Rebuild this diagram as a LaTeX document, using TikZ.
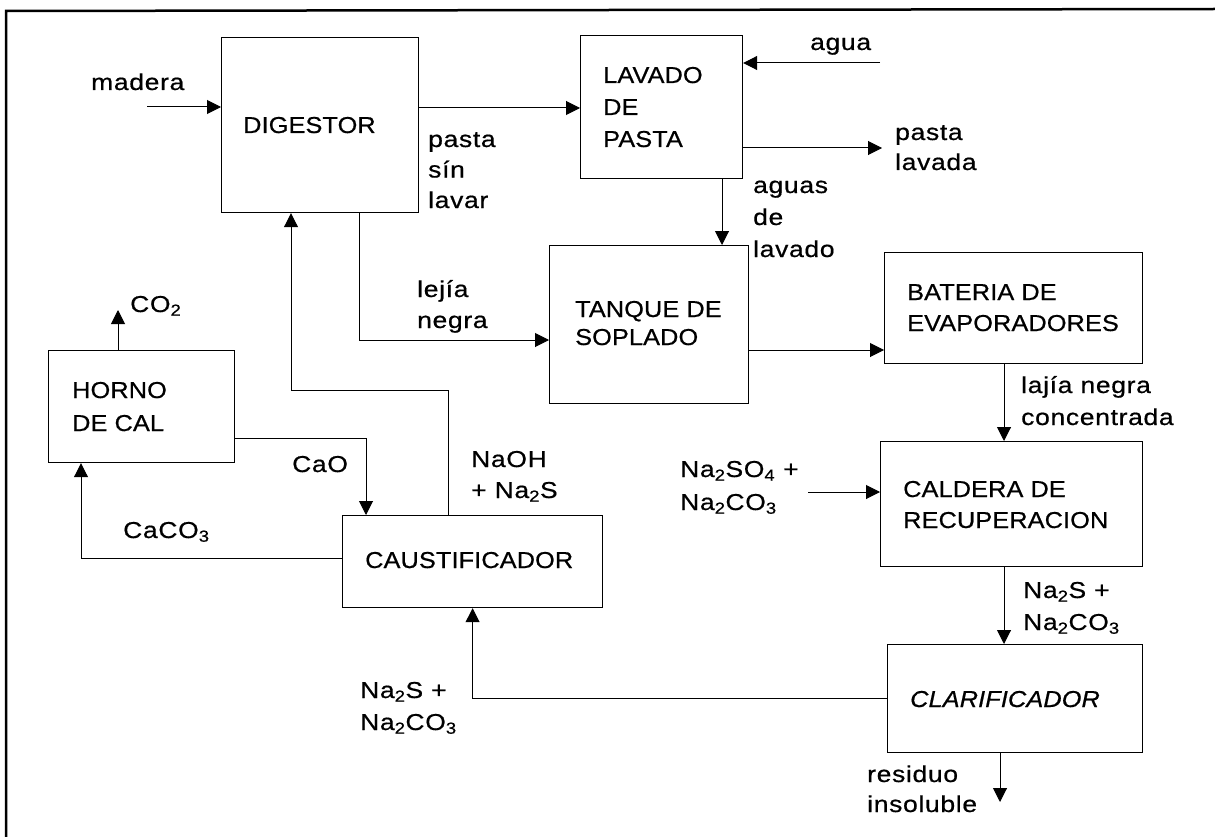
\documentclass[tikz,border=0pt]{standalone}
\usepackage{fontspec}
\setmainfont{Liberation Sans}
\newfontfamily\bxfont{Liberation Sans}[FakeStretch=1.1,LetterSpace=0.5,FakeBold=0.6]
\newfontfamily\lbfont{Liberation Sans}[FakeStretch=1.15,LetterSpace=3,FakeBold=0.6]
\usetikzlibrary{arrows.meta}
\newcommand{\sbs}[1]{\textsubscript{#1}}
\begin{document}
\begin{tikzpicture}[x=1pt,y=-1pt,
  box/.style={draw, line width=1.2pt, inner sep=0pt, anchor=north west},
  btext/.style={font=\bxfont\fontsize{23}{#1}\selectfont, align=left, anchor=base west, inner sep=0pt},
  btext/.default=31,
  lbl/.style={font=\lbfont\fontsize{23}{#1}\selectfont, align=left, anchor=base west, inner sep=0pt},
  lbl/.default=31,
  conn/.style={line width=1pt},
  arr/.style={conn, -{Triangle[length=14pt,width=14pt]}}]
\useasboundingbox (0,0) rectangle (1215,837);
% frame
\draw[line width=2.5pt] (6,837) -- (6,11) -- (1215,9);
% boxes
\node[box, minimum width=197pt, minimum height=175pt] (dig) at (221,37) {};
\node[box, minimum width=162pt, minimum height=143pt] (lav) at (580,35) {};
\node[box, minimum width=199pt, minimum height=158pt] (tan) at (549,245) {};
\node[box, minimum width=258pt, minimum height=111pt] (bat) at (884,252) {};
\node[box, minimum width=262pt, minimum height=125pt] (cal) at (880,441) {};
\node[box, minimum width=255pt, minimum height=108pt] (cla) at (887,644) {};
\node[box, minimum width=260pt, minimum height=92pt] (cau) at (342,515) {};
\node[box, minimum width=186pt, minimum height=112pt] (hor) at (48,350) {};
% box texts (anchor = baseline of last line)
\node[btext] (digT) at (243,133) {DIGESTOR};
\node[btext=32] (lavT) at (603,147) {LAVADO\\DE\\PASTA};
\node[btext=28] (tanT) at (575,345) {TANQUE DE\\SOPLADO};
\node[btext] (batT) at (907,331) {BATERIA DE\\EVAPORADORES};
\node[btext] (calT) at (903,528) {CALDERA DE\\RECUPERACION};
\node[btext, font=\bxfont\itshape\fontsize{23}{31}\selectfont] (claT) at (910,707) {CLARIFICADOR};
\node[btext] (cauT) at (365,568) {CAUSTIFICADOR};
\node[btext=33] (horT) at (72,431) {HORNO\\DE CAL};
% labels
\node[lbl] (lMad) at (91,90) {madera};
\node[lbl] (lAgua) at (810,50) {agua};
\node[lbl=30.5] (lPsl) at (428,208) {pasta\\sín\\lavar};
\node[lbl=30] (lPl) at (895,170) {pasta\\lavada};
\node[lbl=32] (lAdl) at (753,257) {aguas\\de\\lavado};
\node[lbl] (lLej) at (417,328) {lejía\\negra};
\node[lbl=32] (lLaj) at (1021,425) {lajía negra\\concentrada};
\node[lbl=33] (lSO4) at (680,510) {Na\sbs{2}SO\sbs{4} +\\Na\sbs{2}CO\sbs{3}};
\node[lbl] (lNaOH) at (471,498) {NaOH\\+ Na\sbs{2}S};
\node[lbl] (lCaO) at (292,472) {CaO};
\node[lbl] (lCaCO) at (123,538) {CaCO\sbs{3}};
\node[lbl] (lCO2) at (130,312) {CO\sbs{2}};
\node[lbl=32] (lNaS1) at (1023,630) {Na\sbs{2}S +\\Na\sbs{2}CO\sbs{3}};
\node[lbl=32] (lNaS2) at (360,730) {Na\sbs{2}S +\\Na\sbs{2}CO\sbs{3}};
\node[lbl=30] (lRes) at (867,812) {residuo\\insoluble};
% free ends
\coordinate (cMad) at (147,107);
\coordinate (cAgua) at (880,63);
\coordinate (cPl) at (882,148);
\coordinate (cSO4) at (808,492);
\coordinate (cRes) at (1000,802);
\coordinate (cCO2) at (118,310);
% connectors
\draw[arr] (cMad) -- (dig.west |- cMad);
\draw[arr] (dig.east |- 0,108) -- (lav.west |- 0,108);
\draw[arr] (cAgua) -- (lav.east |- cAgua);
\draw[arr] (lav.east |- cPl) -- (cPl);
\draw[arr] (lav.south -| 722,0) -- (tan.north -| 722,0);
\draw[arr] (dig.south -| 359,0) |- (tan.west |- 0,340);
\draw[arr] (tan.east |- 0,350) -- (bat.west |- 0,350);
\draw[arr] (bat.south -| 1004,0) -- (cal.north -| 1004,0);
\draw[arr] (cSO4) -- (cal.west |- cSO4);
\draw[arr] (cal.south -| 1004,0) -- (cla.north -| 1004,0);
\draw[arr] (cla.south -| cRes) -- (cRes);
\draw[arr] (cla.west) -| (cau.south);
\draw[arr] (cau.west |- 0,558) -| (hor.south -| 81,0);
\draw[arr] (hor.east |- 0,438) -| (cau.north -| 366,0);
\draw[arr] (cau.north -| 448,0) -- (448,390) -- (291,390) -- (dig.south -| 291,0);
\draw[arr] (hor.north -| cCO2) -- (cCO2);
\end{tikzpicture}
\end{document}
